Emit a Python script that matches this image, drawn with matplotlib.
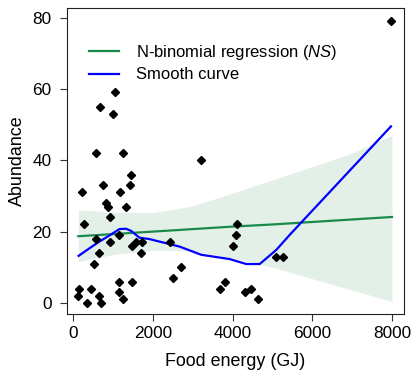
import matplotlib
matplotlib.use("Agg")
import matplotlib.pyplot as plt

plt.rcParams['font.family'] = ['Liberation Sans', 'DejaVu Sans']
plt.rcParams['mathtext.fontset'] = 'custom'
plt.rcParams['mathtext.it'] = 'Liberation Sans:italic'
plt.rcParams['mathtext.rm'] = 'Liberation Sans'

# observed points (food energy GJ, abundance)
food_energy = [1040, 663, 998, 571, 1250, 1451, 747, 1426, 218, 1166,
               813, 863, 1316, 914, 268, 571, 1141, 922, 654, 1476,
               1568, 1727, 1711, 2432, 520, 2491, 1157, 1476, 143, 436,
               1149, 118, 637, 1250, 335, 696, 3203, 4109, 4084, 4000,
               5099, 5266, 2709, 3807, 3673, 4461, 4310, 4637, 7967]
abundance = [59, 55, 53, 42, 42, 36, 33, 33, 31, 31,
             28, 27, 27, 24, 22, 18, 19, 17, 14, 16,
             17, 17, 14, 17, 11, 7, 6, 6, 4, 4,
             3, 2, 2, 1, 0, 0, 40, 22, 19, 16,
             13, 13, 10, 6, 4, 4, 3, 1, 79]

# negative binomial fit and its confidence band
fit_x = [126, 1000, 2000, 3000, 4000, 5000, 6000, 7000, 8000]
fit_y = [18.7, 19.3, 20.0, 20.7, 21.4, 22.0, 22.7, 23.4, 24.1]
fit_upper = [26.1, 25.5, 25.3, 27.2, 30.8, 34.5, 38.2, 42.0, 47.0]
fit_lower = [11.6, 13.6, 14.8, 14.6, 12.6, 10.0, 6.8, 3.6, 0.4]

# smooth curve
smooth_x = [134, 403, 654, 906, 1157, 1325, 1451, 1660, 1912, 2415,
            2667, 3212, 3925, 4344, 4679, 5099, 5434, 7975]
smooth_y = [13.2, 15.3, 17.2, 18.9, 20.7, 20.8, 20.2, 18.3, 17.9, 16.5,
            15.8, 13.5, 12.3, 10.9, 10.9, 14.9, 19.1, 49.5]

fig = plt.figure(figsize=(4.12, 3.83), dpi=100)
ax = fig.add_axes([0.1626, 0.1802, 0.818, 0.799])

ax.fill_between(fit_x, fit_lower, fit_upper, color='#e3f0e8', lw=0)
ax.plot(fit_x, fit_y, color='#1a8a4a', lw=1.6,
        label=r'N-binomial regression ($\mathit{NS}$)')
ax.plot(smooth_x, smooth_y, color='#0000ff', lw=1.6, label='Smooth curve')
ax.plot(food_energy, abundance, 'D', color='black', markersize=3.8)

ax.set_xlim(-158, 8302)
ax.set_ylim(-3.1, 82.7)
ax.set_xticks([0, 2000, 4000, 6000, 8000])
ax.set_yticks([0, 20, 40, 60, 80])
ax.tick_params(labelsize=12.4, length=5, width=0.8, color='#333333')
ax.tick_params(axis='y', pad=6)
ax.tick_params(axis='x', pad=4)
for s in ax.spines.values():
    s.set_linewidth(0.8)
    s.set_color('#222222')

ax.set_xlabel('Food energy (GJ)', fontsize=12.9, labelpad=8)
ax.set_ylabel('Abundance', fontsize=12.9, labelpad=5)

ax.legend(loc='upper left', bbox_to_anchor=(0.065, 0.885), frameon=False,
          fontsize=12, handlelength=1.8, handletextpad=1.0,
          labelspacing=0.32, borderpad=0, borderaxespad=0)

fig.savefig('out.png', dpi=100)
